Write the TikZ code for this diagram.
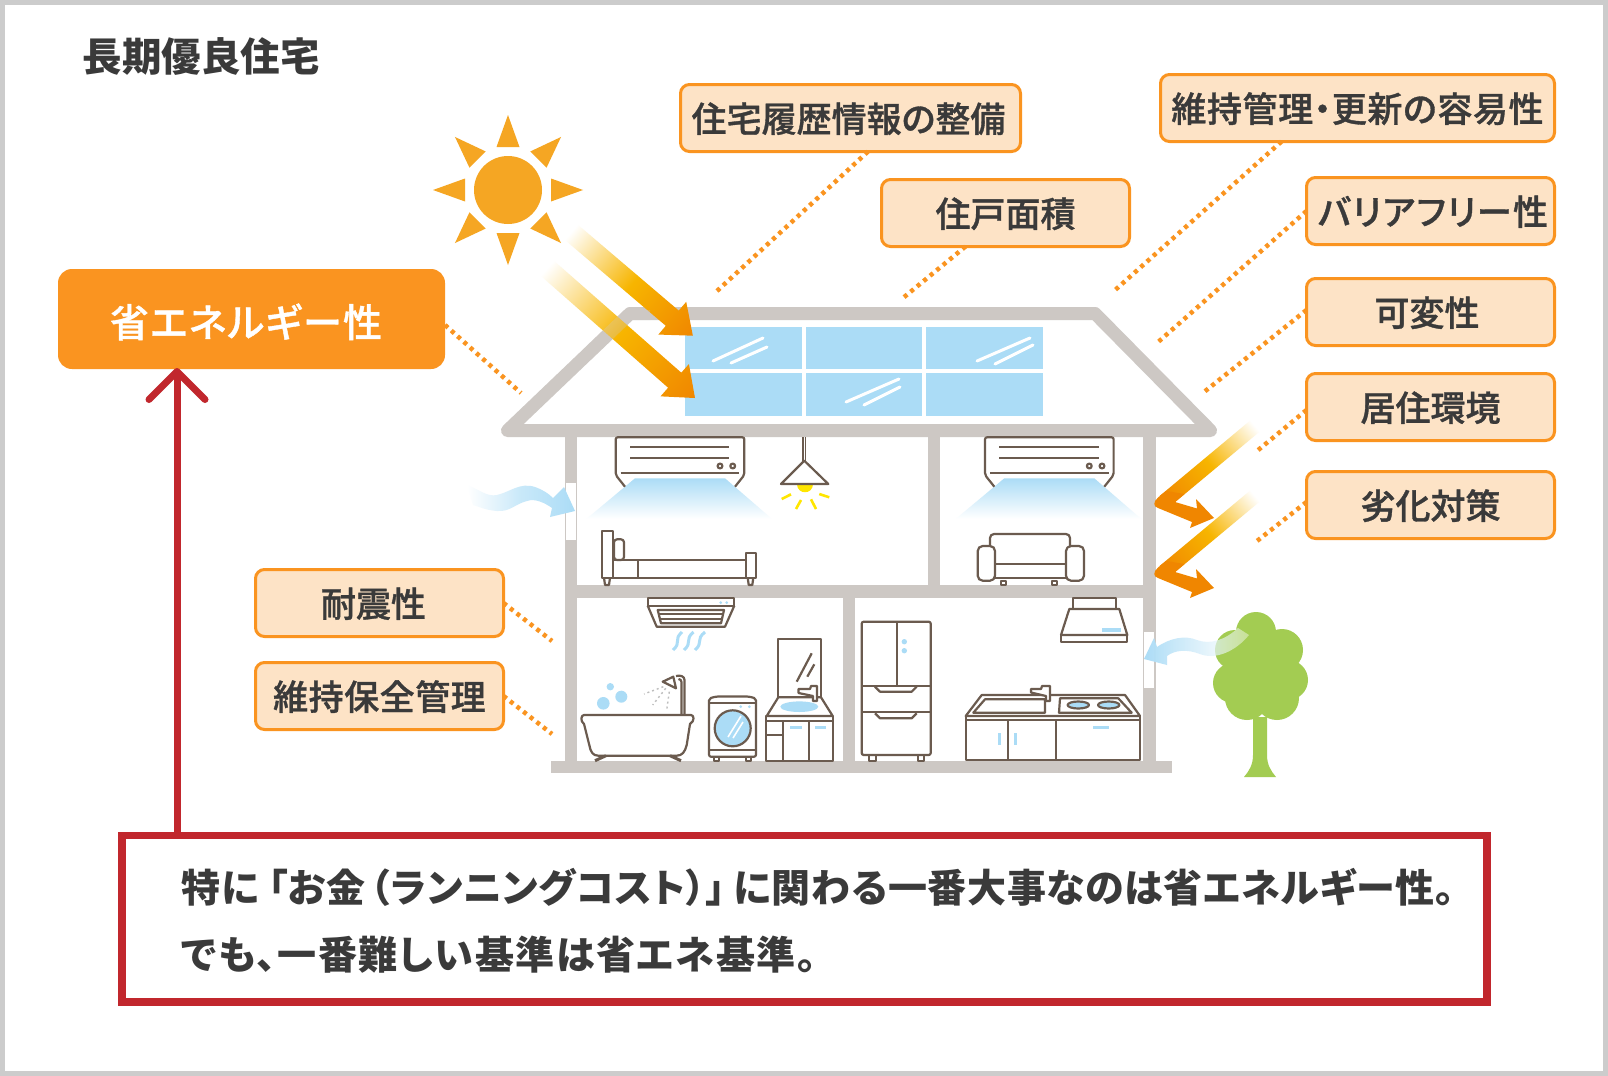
\documentclass[tikz,border=0pt]{standalone}
\usepackage{fontspec}
\newfontfamily\cjkfont{Noto Sans CJK JP}[RawFeature=+palt]
\newfontfamily\cjkmedium{Noto Sans CJK JP Medium}[RawFeature=+palt,FakeBold=1]
\usetikzlibrary{arrows.meta,fadings}
\definecolor{framegray}{HTML}{CCCCCC}
\definecolor{labelorange}{HTML}{FA9420}
\definecolor{labelpeach}{HTML}{FDE3C6}
\definecolor{inktext}{HTML}{3A3A3A}
\definecolor{notered}{HTML}{C1272D}
\definecolor{wallgray}{HTML}{CDC8C4}
\definecolor{glassblue}{HTML}{ABDCF6}
\definecolor{sunorange}{HTML}{F5A623}
\definecolor{beamgold}{HTML}{F7B500}
\definecolor{beamorange}{HTML}{F08600}
\definecolor{fixtureline}{HTML}{6B5B4F}
\definecolor{lampyellow}{HTML}{FFE600}
\definecolor{treegreen}{HTML}{A3CC52}
\definecolor{spraygray}{HTML}{BDBDBD}
\tikzfading[name=breezefade, left color=transparent!0, right color=transparent!60, middle color=transparent!15]
\tikzset{
  labelbox/.style={rectangle, rounded corners=9pt, draw=labelorange, fill=labelpeach, line width=3pt,
    inner sep=0pt, outer sep=0pt, minimum height=67pt, text=inktext, text height=31pt, text depth=3pt,
    font=\cjkmedium\fontsize{35}{40}\selectfont},
  energybox/.style={rectangle, rounded corners=14pt, fill=labelorange, inner sep=0pt, outer sep=0pt,
    minimum width=387pt, minimum height=100pt, text=white, text height=41pt, text depth=5pt,
    font=\cjkmedium\fontsize{39}{44}\selectfont},
  notebox/.style={rectangle, draw=notered, fill=white, line width=7.5pt, inner sep=0pt, outer sep=0pt,
    minimum width=1365pt, minimum height=166.5pt},
  notetext/.style={anchor=west, inner sep=0pt, text=inktext, font=\cjkfont\bfseries\fontsize{39}{44}\selectfont},
  titletext/.style={inner sep=0pt, text=inktext, font=\cjkfont\bfseries\fontsize{39.5}{44}\selectfont},
  dotline/.style={draw=labelorange, line width=4.5pt, dash pattern=on 4pt off 4.4pt},
  fixture/.style={draw=fixtureline, line width=2.2pt, line join=round},
  beamshade/.style={left color=white, right color=beamorange, middle color=beamgold}
}
\newcommand\sunbeam[4]{
  \begin{scope}[transform canvas={shift={(#1,#2)},rotate=#3}]
    \shade[beamshade] (0,-10) -- (#4-27,-10) -- (#4-27,-21.5) -- (#4,0) -- (#4-27,21.5) -- (#4-27,10) -- (0,10) -- cycle;
  \end{scope}
}
\newcommand\zigbeam[1]{
  \begin{scope}[transform canvas={shift={(1255,426+#1)},rotate=-140.2}]
    \shade[beamshade] (0,-7.3) rectangle (118,7.3);
  \end{scope}
  \begin{scope}[shift={(0,#1)}]
    \fill[beamorange] (1184.5,494) -- (1166,491) -- (1158,497.5) .. controls (1153,502) and (1153,506.5) .. (1158,508)
      -- (1192,522) -- (1190,528) -- (1214,518) -- (1196,499) -- (1197,508.5) -- (1175,502) -- cycle;
  \end{scope}
}
\begin{document}
\begin{tikzpicture}[x=1pt,y=-1pt]
  \useasboundingbox (0,0) rectangle (1608,1075.8);
  \fill[white] (0,0) rectangle (1608,1075.8);
  \draw[framegray, line width=5pt] (2.5,2.5) rectangle (1605.5,1073.3);

  \draw[wallgray, line width=13pt, line join=round] (507.5,430.5) -- (630,313.5) -- (1095,313.5) -- (1210.5,430.5) -- cycle;
  \fill[wallgray] (564.5,437) rectangle (577,761);
  \fill[wallgray] (1143,437) rectangle (1155.5,761);
  \fill[wallgray] (928,437) rectangle (940,585);
  \fill[wallgray] (843,598) rectangle (855,761);
  \fill[wallgray] (564.5,585) rectangle (1155.5,598);
  \fill[wallgray] (551,761) rectangle (1172,773);
  \fill[white] (566,483) rectangle (576,540);
  \fill[white] (1143.5,632) rectangle (1154,688);

  \fill[glassblue] (685,327) rectangle (802,369);
  \fill[glassblue] (805.5,327) rectangle (922,369);
  \fill[glassblue] (926,327) rectangle (1043,369);
  \fill[glassblue] (685,373) rectangle (802,416);
  \fill[glassblue] (805.5,373) rectangle (922,416);
  \fill[glassblue] (926,373) rectangle (1043,416);
  \begin{scope}[white, line width=3pt, line cap=round]
    \draw (713,361) -- (763,338);
    \draw (731,363) -- (767,347);
    \draw (977,361) -- (1030,338);
    \draw (995,364) -- (1033,345);
    \draw (846,402) -- (899,379);
    \draw (864,405) -- (900,387);
  \end{scope}

  \fill[sunorange] (508,190) circle (34);
  \foreach \a in {0,45,...,315}
    \fill[sunorange, shift={(508,190)}, rotate=\a] (43,-11.5) -- (75,0) -- (43,11.5) -- cycle;

  \foreach \sx in {0,369.3}{
    \begin{scope}[shift={(\sx,0)}]
      \shade[top color=glassblue, bottom color=white] (635,478.3) -- (725,478.3) -- (771.7,518.7) -- (586.7,518.7) -- cycle;
      \draw[fixture, rounded corners=2pt] (625,486.7) -- (615.7,475) -- (615.7,437.3) -- (744.3,437.3) -- (744.3,475) -- (735,486.7);
      \draw[fixture] (630,447.3) -- (729.3,447.3);
      \draw[fixture] (630,458) -- (729.3,458);
      \draw[fixture] (620.7,473.3) -- (739.3,473.3);
      \draw[fixture] (720,466) circle (2.4);
      \draw[fixture] (732.7,466) circle (2.4);
    \end{scope}
  }

  \fill[lampyellow] (797,484) .. controls (797,495) and (813,495) .. (813,484) -- cycle;
  \draw[fixture, line width=1.2pt] (803,437) -- (803,461);
  \draw[fixture, line width=1.2pt] (805.7,437) -- (805.7,461);
  \draw[fixture] (804.3,460.7) -- (828.3,484) -- (781,484) -- cycle;
  \begin{scope}[lampyellow, line width=2.6pt]
    \draw (781.7,499) -- (791,494.3);
    \draw (796,509) -- (801,500);
    \draw (816,509) -- (811,499.3);
    \draw (829.3,497.3) -- (819.3,494);
  \end{scope}

  \draw[fixture] (602.3,531) rectangle (612.7,577.7);
  \draw[fixture, rounded corners=3pt] (614,560) -- (614,539.3) -- (624,539.3) -- (624,560) -- cycle;
  \draw[fixture] (612.7,560) -- (745.7,560);
  \draw[fixture] (612.7,577.7) -- (745.7,577.7);
  \draw[fixture] (638.3,560) -- (638.3,577.7);
  \draw[fixture] (745.7,552.7) rectangle (755.7,577.7);
  \draw[fixture] (604,577.7) -- (605,585) -- (609,585) -- (610,577.7);
  \draw[fixture] (747.7,577.7) -- (748.7,585) -- (752.3,585) -- (753.3,577.7);

  \draw[fixture] (647.7,598.3) rectangle (734.3,605.7);
  \draw[fixture] (647.7,605.7) -- (656.7,626.7) -- (725,626.7) -- (734.3,605.7);
  \draw[fixture] (657.7,610) -- (724,610) -- (721,623.3) -- (661,623.3) -- cycle;
  \draw[fixture] (659,614.3) -- (722.5,614.3);
  \draw[fixture] (660.5,618.8) -- (721.5,618.8);
  \fill[glassblue] (720.7,602.7) circle (1.5);
  \fill[glassblue] (726.7,602.7) circle (1.5);
  \begin{scope}[glassblue, line width=3pt]
    \draw (673,650) .. controls (682,642) and (673,640) .. (682,632);
    \draw (684,650) .. controls (693,642) and (684,640) .. (693.5,632);
    \draw (695,650) .. controls (704,642) and (695,640) .. (705,632);
  \end{scope}

  \fill[glassblue] (603.3,703.3) circle (6.3);
  \fill[glassblue] (621.3,696.7) circle (6);
  \fill[glassblue] (610.3,686.7) circle (3.7);
  \draw[fixture] (584,724) .. controls (580,721) and (581,715) .. (584,715) -- (691,715) .. controls (694,715) and (695,721) .. (690,724)
    -- (686.7,745) .. controls (685,752) and (682,755.7) .. (676.7,755.7) -- (598.3,755.7) .. controls (593,755.7) and (590.5,752) .. (589.3,745) -- cycle;
  \draw[fixture, line width=3pt] (595,760.7) -- (606,755.7);
  \draw[fixture, line width=3pt] (670,755.7) -- (681,760.7);
  \draw[fixture] (681.5,715) -- (681.5,682) arc (0:-90:3);
  \draw[fixture] (684.5,715) -- (684.5,680) .. controls (684.5,676) and (680,675) .. (676,676);
  \draw[fixture] (662.7,681.7) -- (673.3,676.7) -- (676,688.3) -- cycle;
  \begin{scope}[spraygray, line width=1.4pt, dash pattern=on 2pt off 3pt]
    \draw (663.3,686.7) -- (644,694);
    \draw (665.7,688.3) -- (652.7,705);
    \draw (669.3,691.7) -- (666.7,710);
  \end{scope}

  \draw[fixture, rounded corners=2pt] (709,756.7) -- (709,698.5) -- (716,696.5) -- (749,696.5) -- (756,698.5) -- (756,756.7) -- cycle;
  \draw[fixture] (709,702.7) -- (756,702.7);
  \draw[fixture] (709,750) -- (756,750);
  \draw[fixture] (714,756.7) rectangle (719,760.7);
  \draw[fixture] (745.7,756.7) rectangle (750.7,760.7);
  \fill[glassblue] (740.7,706.7) circle (1.5);
  \fill[glassblue] (749.3,706.7) circle (1.5);
  \draw[fixture, fill=glassblue] (732.7,728.3) circle (18);
  \draw[white, line width=1.6pt] (728,737) -- (741,716);
  \draw[white, line width=1.6pt] (733,738) -- (743,722);

  \draw[fixture] (778.3,696.7) -- (778.3,639) -- (821,639) -- (821,696.7);
  \draw[fixture] (796.7,681.7) -- (811.7,653.3);
  \draw[fixture] (807.3,676.7) -- (814.3,664.3);
  \draw[fixture] (778.3,697.3) -- (821,697.3) -- (832.7,716) -- (766.7,716) -- cycle;
  \fill[glassblue] (799.3,706.7) ellipse (19 and 5.3);
  \draw[fixture, fill=white] (798.5,689) -- (810,689) -- (811,686) -- (817,686) -- (817,701) -- (813,701) -- (813,696) -- (798.5,693) -- cycle;
  \draw[fixture] (766,716) rectangle (832.7,760.7);
  \draw[fixture] (766,721) -- (832.7,721);
  \draw[fixture] (783.3,721) -- (783.3,760.7);
  \draw[fixture] (809,721) -- (809,760.7);
  \draw[fixture] (766,735) -- (783.3,735);
  \fill[glassblue] (790,726) rectangle (801.7,729.3);
  \fill[glassblue] (815,726) rectangle (826,729.3);

  \draw[fixture, rounded corners=2pt] (861.7,621.7) rectangle (930.7,755);
  \draw[fixture] (896.7,621.7) -- (896.7,685.7);
  \draw[fixture] (861.7,685.7) -- (930.7,685.7);
  \draw[fixture] (861.7,712.3) -- (930.7,712.3);
  \draw[fixture] (875,686.7) -- (880,691.7) -- (911.7,691.7) -- (916.7,686.7);
  \draw[fixture] (875,713.3) -- (880,718.3) -- (911.7,718.3) -- (916.7,713.3);
  \draw[fixture] (869,755) rectangle (875.7,760.7);
  \draw[fixture] (917.7,755) rectangle (924.3,760.7);
  \fill[glassblue] (904.3,641.7) circle (2.7);
  \fill[glassblue] (904.3,650.7) circle (2.7);

  \draw[fixture, rounded corners=4pt] (990,546) -- (990,534) -- (1070,534) -- (1070,546);
  \draw[fixture, rounded corners=5pt] (977.7,546) rectangle (995,580.7);
  \draw[fixture, rounded corners=5pt] (1066,546) rectangle (1084,580.7);
  \draw[fixture] (995,564.3) -- (1066,564.3);
  \draw[fixture] (995,578.3) -- (1066,578.3);
  \draw[fixture] (1000.7,580.7) rectangle (1006,585);
  \draw[fixture] (1051.7,580.7) rectangle (1057,585);

  \draw[fixture] (1072.7,609) -- (1072.7,598.3) -- (1115.7,598.3) -- (1115.7,609);
  \draw[fixture] (1069.3,609) -- (1119.3,609) -- (1127.3,635) -- (1061,635) -- cycle;
  \draw[fixture] (1061,635) rectangle (1127.3,641.7);
  \fill[glassblue] (1102.3,628.3) rectangle (1121,632);

  \draw[fixture] (981.7,695) -- (1125,695) -- (1140,716) -- (965.7,716) -- cycle;
  \draw[fixture] (985,699.3) -- (1045,699.3) -- (1045,712.7) -- (973.3,712.7) -- cycle;
  \draw[fixture] (1060,698.3) -- (1118.3,698.3) -- (1131.7,712.7) -- (1059,712.7) -- cycle;
  \draw[fixture, fill=glassblue] (1078.3,705) ellipse (10.7 and 3.5);
  \draw[fixture, fill=glassblue] (1108.7,705) ellipse (10.7 and 3.5);
  \draw[fixture, fill=white] (1031,689) -- (1041,689) -- (1042,686) -- (1050,686) -- (1050,701) -- (1046,701) -- (1046,696) -- (1031,692.5) -- cycle;
  \draw[fixture] (965.7,716) rectangle (1140,760);
  \draw[fixture] (965.7,720) -- (1140,720);
  \draw[fixture] (1008,720) -- (1008,760);
  \draw[fixture] (1056.3,720) -- (1056.3,760);
  \fill[glassblue] (997.7,733) rectangle (1001,745);
  \fill[glassblue] (1014,733) rectangle (1017.3,745);
  \fill[glassblue] (1092.7,726) rectangle (1109,729.3);

  \fill[treegreen] (1253,717) -- (1267,717) -- (1267,755) .. controls (1267,765) and (1271,771) .. (1276,777) -- (1244,777) .. controls (1249,771) and (1253,765) .. (1253,755) -- cycle;
  \fill[treegreen] (1256,632) circle (20);
  \fill[treegreen] (1282,650) circle (21);
  \fill[treegreen] (1288,680) circle (20);
  \fill[treegreen] (1233,683) circle (20);
  \fill[treegreen] (1235,650) circle (20);
  \fill[treegreen] (1247,698) circle (22);
  \fill[treegreen] (1277,698) circle (22);
  \fill[treegreen] (1260,665) circle (30);

  \shade[left color=white, right color=glassblue, middle color=glassblue!65] (467,485) .. controls (480,490) and (487,497) .. (497,495)
    .. controls (510,492) and (520,482) .. (535,487) .. controls (543,490) and (548,493) .. (553,498) -- (564,487) -- (575,511) -- (550,517) -- (552,508)
    .. controls (545,503) and (535,498) .. (527,501) .. controls (515,504) and (510,512) .. (497,511) .. controls (485,510) and (480,507) .. (473,505) -- cycle;
  \shade[left color=glassblue, right color=white, path fading=breezefade] (1144,659) -- (1154,638) -- (1157,647)
    .. controls (1170,638) and (1185,635) .. (1197,640) .. controls (1210,645) and (1225,640) .. (1238,628) -- (1249,635)
    .. controls (1235,652) and (1215,660) .. (1200,654) .. controls (1187,649) and (1175,650) .. (1167,656) -- (1167,665) -- cycle;

  \sunbeam{571}{232}{-40.4}{160}
  \sunbeam{547}{268}{-41.3}{197}
  \begin{scope}
    \clip (585,310) rectangle (650,360);
    \draw[wallgray, opacity=.3, line width=13pt, line join=round] (507.5,430.5) -- (630,313.5) -- (1095,313.5);
  \end{scope}
  \zigbeam{0}
  \zigbeam{70}

  \coordinate (histend) at (717,291);
  \coordinate (areaend) at (903,298);
  \coordinate (maintend) at (1114,291);
  \coordinate (barrierend) at (1157,343);
  \coordinate (adaptend) at (1204,392);
  \coordinate (envend) at (1257,451);
  \coordinate (agingend) at (1257,541);
  \coordinate (quakeend) at (552,641);
  \coordinate (keepend) at (552,734);
  \coordinate (energyend) at (521,393);

  \node[labelbox, minimum width=340pt] (hist) at (850.5,118) {住宅履歴情報の整備\hspace*{4pt}};
  \node[labelbox, minimum width=248pt] (area) at (1005.5,213) {住戸面積};
  \node[labelbox, minimum width=394pt] (maint) at (1357.5,108) {\addfontfeature{LetterSpace=1.7}維持管理・更新の容易性};
  \node[labelbox, minimum width=248pt] (barrier) at (1430.5,211) {\hspace*{5pt}\addfontfeature{LetterSpace=4}バリアフリー性};
  \node[labelbox, minimum width=248pt] (adapt) at (1430.5,312) {可変性\hspace*{7pt}};
  \node[labelbox, minimum width=248pt] (env) at (1430.5,407) {居住環境};
  \node[labelbox, minimum width=248pt] (aging) at (1430.5,505) {劣化対策};
  \node[labelbox, minimum width=248pt] (quake) at (379.5,603) {耐震性\hspace*{12pt}};
  \node[labelbox, minimum width=248pt] (keep) at (379.5,696) {\addfontfeature{LetterSpace=1.5}維持保全管理};
  \node[energybox] (energy) at (251.5,319) {\addfontfeature{LetterSpace=3.4}省エネルギー性\hspace*{11pt}};
  \node[titletext] (title) at (201,57) {長期優良住宅};
  \node[notebox] (note) at (804.5,918.75) {};
  \node[notetext] (noteone) at (181.5,887) {\addfontfeature{LetterSpace=1.7}特に\hspace{9pt}「お金\hspace{5pt}（ランニングコスト）」\hspace{8pt}に関わる一番大事なのは省エネルギー性。};
  \node[notetext] (notetwo) at (181.5,955) {\addfontfeature{LetterSpace=4}でも、一番難しい基準は省エネ基準。};

  \draw[dotline] ([xshift=17.5pt]hist.south) -- (histend);
  \draw[dotline] ([xshift=-40pt]area.south) -- (areaend);
  \draw[dotline] ([xshift=-76pt]maint.south) -- (maintend);
  \draw[dotline] (barrier.west) -- (barrierend);
  \draw[dotline] ([yshift=2pt]adapt.west) -- (adaptend);
  \draw[dotline] ([yshift=-3pt]env.west) -- (envend);
  \draw[dotline] ([yshift=3pt]aging.west) -- (agingend);
  \draw[dotline] (quake.east) -- (quakeend);
  \draw[dotline] (keep.east) -- (keepend);
  \draw[dotline] ([yshift=-6pt]energy.east) -- (energyend);

  \draw[notered, line width=7pt, -{Straight Barb[length=28pt,width=56pt,round]}] ([xshift=55pt]note.north west) -- ([xshift=119pt,yshift=1pt]energy.south west);
\end{tikzpicture}
\end{document}
